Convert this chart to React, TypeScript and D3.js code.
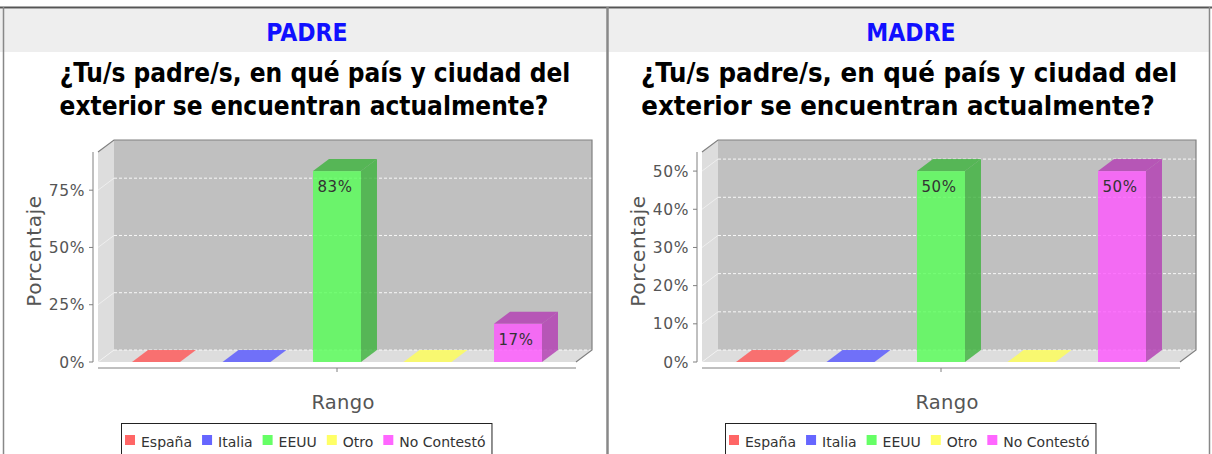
import React, { useMemo } from "react";
import * as d3 from "d3";

const seriesNames = ["España", "Italia", "EEUU", "Otro", "No Contestó"];
const seriesColors = ["#ff5555", "#5555ff", "#55ff55", "#ffff55", "#ff55ff"];
const categoryLabel = "Rango";
const valueAxisLabel = "Porcentaje";
const titleLines = ["¿Tu/s padre/s, en qué país y ciudad del", "exterior se encuentran actualmente?"];
const padreHeader = "PADRE";
const padreValues = [0, 0, 0.8333, 0, 0.1667];
const padreTicks = [0, 0.25, 0.5, 0.75];
const madreHeader = "MADRE";
const madreValues = [0, 0, 0.5, 0, 0.5];
const madreTicks = [0, 0.1, 0.2, 0.3, 0.4, 0.5];

const SANS = "'DejaVu Sans', Verdana, sans-serif";
const COND = "'DejaVu Sans Condensed', 'DejaVu Sans', sans-serif";

function measure(text: string, font: string) {
  const ctx = document.createElement("canvas").getContext("2d")!;
  ctx.font = font;
  return ctx.measureText(text).width;
}

function Panel({ header, values, ticks, ox, w, titleSize, titleShift }: { header: string; values: number[]; ticks: number[]; ox: number; w: number; titleSize: number; titleShift: number }) {
  const L = 98, R = 576, B = 362, T = 152, DX = 16, DY = 12;
  const maxV = d3.max(values)! * 1.1;
  const y = d3.scaleLinear().domain([0, maxV]).range([B, T]);
  const x = d3.scaleBand<string>().domain(seriesNames).range([L, R]).paddingInner(0.47).paddingOuter(0.376);
  const bw = x.bandwidth();
  const fmt = d3.format(".0%");
  const poly = (pts: number[][]) => pts.map((p) => p.join(",")).join(" ");

  const legendFont = "14px 'DejaVu Sans'";
  const legendItems = useMemo(() => {
    let cx = 125;
    return seriesNames.map((s, i) => {
      const tw = measure(s, legendFont);
      const item = { s, c: seriesColors[i], x: cx, tx: cx + 16 };
      cx += 16 + tw + 10;
      return item;
    });
  }, []);
  const legendEnd = legendItems[legendItems.length - 1].tx + measure(seriesNames[seriesNames.length - 1], legendFont);
  const cx = (L + R) / 2;

  return (
    <g transform={`translate(${ox},0)`}>
      {/* header band */}
      <rect x={0} y={9} width={w} height={43} fill="#eeeeee" />
      <text x={w / 2 + 4} y={41} textAnchor="middle" fontFamily={COND} fontWeight="bold" fontSize={24.5} fill="#1010ff">{header}</text>
      {titleLines.map((t, i) => (
        <text key={i} x={w / 2 + 12 - i * 11 + titleShift} y={82 + i * 33} textAnchor="middle" fontFamily={COND} fontWeight="bold" fontSize={titleSize} fill="#000">{t}</text>
      ))}

      {/* 3D walls */}
      <polygon points={poly([[L + DX, T - DY], [R + DX, T - DY], [R + DX, B - DY], [L + DX, B - DY]])} fill="#c0c0c0" />
      <polygon points={poly([[L, T], [L + DX, T - DY], [L + DX, B - DY], [L, B]])} fill="#dddddd" />
      <polygon points={poly([[L, B], [L + DX, B - DY], [R + DX, B - DY], [R, B]])} fill="#dddddd" />
      {ticks.map((t) => (
        <g key={t}>
          <line x1={L + DX} x2={R + DX} y1={y(t) - DY} y2={y(t) - DY} stroke="#ffffff" strokeDasharray="3,2" strokeWidth={1} opacity={0.9} />
          <line x1={L} x2={L + DX} y1={y(t)} y2={y(t) - DY} stroke="#ffffff" strokeWidth={1} opacity={0.5} />
        </g>
      ))}
      <polyline points={poly([[L, T], [L + DX, T - DY], [R + DX, T - DY], [R + DX, B - DY], [R, B]])} fill="none" stroke="#808080" strokeWidth={1.2} />

      {/* bars */}
      {values.map((v, i) => {
        const s = seriesNames[i];
        const x0 = x(s)!;
        const yt = y(v);
        const base = seriesColors[i];
        const dark = d3.rgb(base).darker(1).toString();
        if (v <= 0) {
          return (
            <polygon key={s} points={poly([[x0, B], [x0 + DX, B - DY], [x0 + bw + DX, B - DY], [x0 + bw, B]])} fill={base} fillOpacity={0.8} />
          );
        }
        return (
          <g key={s}>
            <polygon points={poly([[x0 + bw, yt], [x0 + bw + DX, yt - DY], [x0 + bw + DX, B - DY], [x0 + bw, B]])} fill={dark} fillOpacity={0.8} />
            <polygon points={poly([[x0, yt], [x0 + DX, yt - DY], [x0 + bw + DX, yt - DY], [x0 + bw, yt]])} fill={dark} fillOpacity={0.8} />
            <rect x={x0} y={yt} width={bw} height={B - yt} fill={base} fillOpacity={0.8} />
            <text x={x0 + bw / 2 - 2} y={yt + 21} textAnchor="middle" fontFamily={SANS} fontSize={15} letterSpacing={0.5} fill="#333">{fmt(v)}</text>
          </g>
        );
      })}

      {/* value axis */}
      <line x1={93} x2={93} y1={T} y2={B} stroke="#808080" />
      {ticks.map((t) => (
        <g key={t}>
          <line x1={89} x2={93} y1={y(t)} y2={y(t)} stroke="#808080" />
          <text x={85} y={y(t)} dy="0.36em" textAnchor="end" fontFamily={SANS} fontSize={15.5} letterSpacing={0.6} fill="#555">{fmt(t)}</text>
        </g>
      ))}
      <text transform={`translate(41,${(T + B) / 2 - 6}) rotate(-90)`} textAnchor="middle" fontFamily={SANS} fontSize={20} letterSpacing={0.6} fill="#555">{valueAxisLabel}</text>

      {/* category axis */}
      <line x1={L} x2={R} y1={368} y2={368} stroke="#808080" />
      <line x1={cx} x2={cx} y1={368} y2={372} stroke="#808080" />
      <text x={cx + 6} y={409} textAnchor="middle" fontFamily={SANS} fontSize={19.5} letterSpacing={0.3} fill="#555">{categoryLabel}</text>

      {/* legend */}
      <rect x={121.5} y={423.5} width={legendEnd - 121 + 6} height={40} fill="#fff" stroke="#222" />
      {legendItems.map((it) => (
        <g key={it.s}>
          <rect x={it.x} y={435} width={10} height={10} fill={it.c} fillOpacity={0.9} />
          <text x={it.tx} y={447} fontFamily={SANS} fontSize={14} fill="#333">{it.s}</text>
        </g>
      ))}
    </g>
  );
}

export default function App() {
  const W = 1212, H = 454;
  return (
    <svg width={W} height={H} style={{ position: "absolute", left: 0, top: 0 }}>
      <rect x={0} y={0} width={W} height={H} fill="#fff" />
      <Panel header={padreHeader} values={padreValues} ticks={padreTicks} ox={0} w={606} titleSize={26} titleShift={0} />
      <Panel header={madreHeader} values={madreValues} ticks={madreTicks} ox={604} w={606} titleSize={27.3} titleShift={-10} />
      {/* frame */}
      <line x1={0} x2={W} y1={7.5} y2={7.5} stroke="#555" strokeWidth={2} />
      <line x1={3.5} x2={3.5} y1={7} y2={H} stroke="#888" strokeWidth={1.5} />
      <line x1={607.5} x2={607.5} y1={7} y2={H} stroke="#888" strokeWidth={2.5} />
      <line x1={1209.5} x2={1209.5} y1={7} y2={H} stroke="#888" strokeWidth={1.5} />
    </svg>
  );
}
